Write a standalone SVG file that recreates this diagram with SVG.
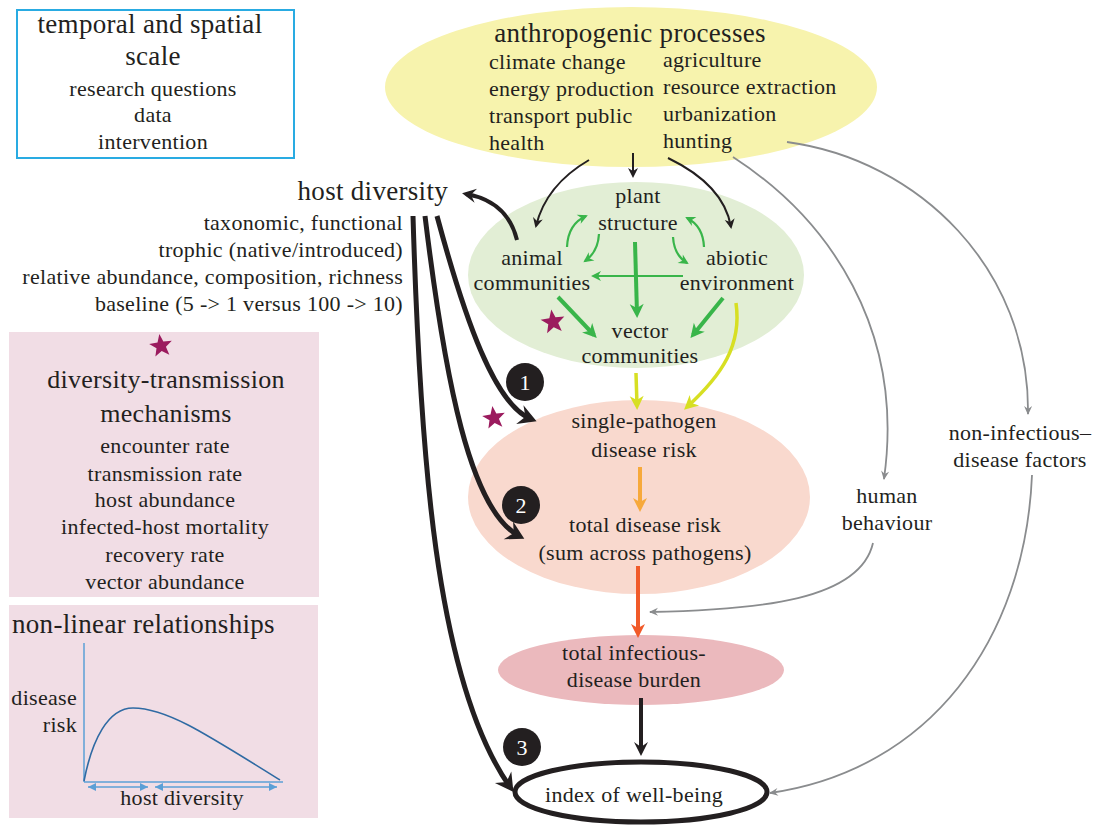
<svg xmlns="http://www.w3.org/2000/svg" width="1094" height="825" viewBox="0 0 1094 825" font-family="'Liberation Serif', 'DejaVu Serif', serif">
<style>
text{font-family:'Liberation Serif','DejaVu Serif',serif;fill:#231f20;}
.b{font-size:22px;letter-spacing:0.3px;}
.h{font-size:27px;letter-spacing:0.3px;}
.m{text-anchor:middle;}
.e{text-anchor:end;}
.num{font-size:22px;fill:#ffffff;text-anchor:middle;}
.thick{fill:none;stroke:#231f20;stroke-width:5;}
.blk{fill:none;stroke:#231f20;stroke-width:2;}
.gth{fill:none;stroke:#39b54a;stroke-width:2.2;}
.gtk{fill:none;stroke:#39b54a;stroke-width:4;}
.yel{fill:none;stroke:#d7df23;stroke-width:3.5;}
.gry{fill:none;stroke:#8a8c8e;stroke-width:1.8;}
.axis{fill:none;stroke:#5b9fd6;stroke-width:1.5;}
.star{fill:#9b1b5e;}
</style>
<defs>
<path id="star" d="M0,-12 L2.94,-4.05 L11.41,-3.71 L4.76,1.55 L7.05,9.71 L0,5 L-7.05,9.71 L-4.76,1.55 L-11.41,-3.71 L-2.94,-4.05 Z"/>
<marker id="aBig" markerUnits="userSpaceOnUse" viewBox="-20 -12 24 24" markerWidth="24" markerHeight="24" refX="-6" refY="0" orient="auto"><path d="M0,0 L-18,-10 L-12,0 L-18,10 Z" fill="#231f20"/></marker>
<marker id="aMed" markerUnits="userSpaceOnUse" viewBox="-16 -9 18 18" markerWidth="18" markerHeight="18" refX="-4" refY="0" orient="auto"><path d="M0,0 L-14,-7 L-9,0 L-14,7 Z" fill="#231f20"/></marker>
<marker id="aSm" markerUnits="userSpaceOnUse" viewBox="-12 -6 14 12" markerWidth="14" markerHeight="12" refX="-2" refY="0" orient="auto"><path d="M0,0 L-10,-5 L-7,0 L-10,5 Z" fill="#231f20"/></marker>
<marker id="gSm" markerUnits="userSpaceOnUse" viewBox="-12 -6 14 12" markerWidth="14" markerHeight="12" refX="-2" refY="0" orient="auto"><path d="M0,0 L-10,-5 L-7,0 L-10,5 Z" fill="#39b54a"/></marker>
<marker id="gBig" markerUnits="userSpaceOnUse" viewBox="-16 -9 18 18" markerWidth="18" markerHeight="18" refX="-4" refY="0" orient="auto"><path d="M0,0 L-14,-7 L-10,0 L-14,7 Z" fill="#39b54a"/></marker>
<marker id="yBig" markerUnits="userSpaceOnUse" viewBox="-16 -9 18 18" markerWidth="18" markerHeight="18" refX="-4" refY="0" orient="auto"><path d="M0,0 L-14,-7 L-10,0 L-14,7 Z" fill="#d7df23"/></marker>
<marker id="oBig" markerUnits="userSpaceOnUse" viewBox="-16 -9 18 18" markerWidth="18" markerHeight="18" refX="-4" refY="0" orient="auto"><path d="M0,0 L-14,-7 L-10,0 L-14,7 Z" fill="#f7a93b"/></marker>
<marker id="rBig" markerUnits="userSpaceOnUse" viewBox="-16 -9 18 18" markerWidth="18" markerHeight="18" refX="-4" refY="0" orient="auto"><path d="M0,0 L-14,-7 L-10,0 L-14,7 Z" fill="#f15a29"/></marker>
<marker id="gray" markerUnits="userSpaceOnUse" viewBox="-11 -5 12 10" markerWidth="12" markerHeight="10" refX="-1" refY="0" orient="auto"><path d="M0,0 L-9,-4 L-6,0 L-9,4 Z" fill="#8a8c8e"/></marker>
<marker id="blue" markerUnits="userSpaceOnUse" viewBox="-9 -5 10 10" markerWidth="10" markerHeight="10" refX="0" refY="0" orient="auto-start-reverse"><path d="M0,0 L-8,-4 L-8,4 Z" fill="#5b9fd6"/></marker>
</defs>

<g id="scale-box">
<rect x="17" y="10" width="277" height="148" fill="#ffffff" stroke="#29abe2" stroke-width="2"/>
<text class="h m" x="150" y="33">temporal and spatial</text>
<text class="h m" x="153" y="65">scale</text>
<text class="b m" x="153" y="96">research questions</text>
<text class="b m" x="153" y="122">data</text>
<text class="b m" x="153" y="149">intervention</text>
</g>

<g id="mechanisms-box">
<rect x="9" y="332" width="310" height="265" fill="#f1dde5"/>
<use href="#star" class="star" transform="translate(161,346) rotate(-8)"/>
<text class="m" style="font-size:26px;letter-spacing:0.3px" x="166" y="388">diversity-transmission</text>
<text class="m" style="font-size:26px;letter-spacing:0.3px" x="166" y="422">mechanisms</text>
<text class="b m" x="165" y="453">encounter rate</text>
<text class="b m" x="165" y="481">transmission rate</text>
<text class="b m" x="165" y="507">host abundance</text>
<text class="b m" x="165" y="534">infected-host mortality</text>
<text class="b m" x="165" y="562">recovery rate</text>
<text class="b m" x="165" y="589">vector abundance</text>
</g>

<g id="nonlinear-box">
<rect x="9" y="605" width="309" height="213" fill="#f1dde5"/>
<text class="h" x="12" y="633">non-linear relationships</text>
<line class="axis" x1="84" y1="643" x2="84" y2="782"/>
<line class="axis" x1="84" y1="782" x2="283" y2="782"/>
<path d="M84,781 C92,740 108,708 133,708 C165,708 200,730 280,780" fill="none" stroke="#2f6aa3" stroke-width="1.6"/>
<line class="axis" x1="88" y1="787" x2="148" y2="787" marker-start="url(#blue)" marker-end="url(#blue)"/>
<line class="axis" x1="155" y1="787" x2="277" y2="787" marker-start="url(#blue)" marker-end="url(#blue)"/>
<text class="b e" x="77" y="705">disease</text>
<text class="b e" x="77" y="732">risk</text>
<text class="b m" x="182" y="805">host diversity</text>
</g>

<g id="anthropogenic">
<ellipse cx="631" cy="87" rx="246" ry="80" fill="#f7f3ad"/>
<text class="h m" x="630" y="42">anthropogenic processes</text>
<text class="b" x="489" y="69">climate change</text>
<text class="b" x="489" y="96">energy production</text>
<text class="b" x="489" y="123">transport public</text>
<text class="b" x="489" y="150">health</text>
<text class="b" x="663" y="67">agriculture</text>
<text class="b" x="663" y="94">resource extraction</text>
<text class="b" x="663" y="121">urbanization</text>
<text class="b" x="663" y="148">hunting</text>
</g>

<g id="host-diversity">
<text class="h e" x="448" y="200">host diversity</text>
<text class="b e" x="403" y="230">taxonomic, functional</text>
<text class="b e" x="403" y="257">trophic (native/introduced)</text>
<text class="b e" x="403" y="284">relative abundance, composition, richness</text>
<text class="b e" x="403" y="311">baseline (5 -&gt; 1 versus 100 -&gt; 10)</text>
</g>

<g id="community">
<ellipse cx="636" cy="275" rx="168" ry="93" fill="#e2eed5"/>
</g>

<g id="disease-risk">
<ellipse cx="639" cy="497" rx="171" ry="97" fill="#f9d9ce"/>
</g>

<g id="burden">
<ellipse cx="641" cy="670" rx="143" ry="35" fill="#ebb9bd"/>
<text class="b m" x="634" y="660">total infectious-</text>
<text class="b m" x="634" y="687">disease burden</text>
</g>

<g id="well-being">
<ellipse cx="641" cy="792" rx="126" ry="30" fill="#ffffff" stroke="#231f20" stroke-width="5"/>
<text class="b m" x="634" y="802">index of well-being</text>
</g>

<g id="connectors">
<path class="blk" d="M589,160 Q546,185 536,226" marker-end="url(#aSm)"/>
<path class="blk" d="M633,153 L633,176" marker-end="url(#aSm)"/>
<path class="blk" d="M668,158 Q724,185 731,227" marker-end="url(#aSm)"/>
<path class="gry" d="M733,157 C830,220 905,330 884,479" marker-end="url(#gray)"/>
<path class="gry" d="M787,142 C920,160 1030,270 1028,414" marker-end="url(#gray)"/>
<path class="gry" d="M873,543 C860,600 760,610 650,612" marker-end="url(#gray)"/>
<path class="gry" d="M1032,475 C1025,640 930,770 770,793" marker-end="url(#gray)"/>
<path fill="none" stroke="#231f20" stroke-width="4" d="M517,240 C512,220 500,200 466,194" marker-end="url(#aMed)"/>
<path class="gth" d="M567,247 Q568,224 586,216" marker-end="url(#gSm)"/>
<path class="gth" d="M599,234 Q598,252 585,261" marker-end="url(#gSm)"/>
<path class="gth" d="M673,237 Q674,255 687,263" marker-end="url(#gSm)"/>
<path class="gth" d="M704,247 Q703,226 687,218" marker-end="url(#gSm)"/>
<path class="gth" d="M683,276 L593,276" marker-end="url(#gSm)"/>
<path class="gtk" d="M635,242 L637,314" marker-end="url(#gBig)"/>
<path class="gtk" d="M558,297 L594,335" marker-end="url(#gBig)"/>
<path class="gtk" d="M723,298 L693,335" marker-end="url(#gBig)"/>
<path class="yel" d="M636,373 L637,406" marker-end="url(#yBig)"/>
<path class="yel" d="M736,303 C742,345 722,375 687,407" marker-end="url(#yBig)"/>
<path fill="none" stroke="#f7a93b" stroke-width="4" d="M640,467 L640,508" marker-end="url(#oBig)"/>
<path fill="none" stroke="#f15a29" stroke-width="4" d="M638,566 L638,634" marker-end="url(#rBig)"/>
<path fill="none" stroke="#231f20" stroke-width="4" d="M641,698 L641,752" marker-end="url(#aMed)"/>
<path class="thick" d="M437,216 C465,320 495,405 531,419" marker-end="url(#aBig)"/>
<path class="thick" d="M425,216 C445,380 470,510 519,536" marker-end="url(#aBig)"/>
<path class="thick" d="M413,216 C420,450 435,680 510,787" marker-end="url(#aBig)"/>
</g>

<g id="community-labels">
<text class="b m" x="638" y="203">plant</text>
<text class="b m" x="638" y="230">structure</text>
<text class="b m" x="532" y="265">animal</text>
<text class="b m" x="532" y="290">communities</text>
<text class="b m" x="737" y="265">abiotic</text>
<text class="b m" x="737" y="290">environment</text>
<text class="b m" x="640" y="338">vector</text>
<text class="b m" x="640" y="363">communities</text>
</g>

<g id="risk-labels">
<text class="b m" x="644" y="428">single-pathogen</text>
<text class="b m" x="644" y="457">disease risk</text>
<text class="b m" x="645" y="532">total disease risk</text>
<text class="b m" x="645" y="560">(sum across pathogens)</text>
</g>

<g id="human-behaviour">
<text class="b m" x="887" y="503">human</text>
<text class="b m" x="887" y="530">behaviour</text>
</g>

<g id="non-infectious">
<text class="b m" x="1020" y="440">non-infectious–</text>
<text class="b m" x="1020" y="467">disease factors</text>
</g>

<g id="markers-stars">
<use href="#star" class="star" transform="translate(553,322) rotate(-8) scale(1.05)"/>
<use href="#star" class="star" transform="translate(494,418) rotate(-8)"/>
</g>

<g id="badges">
<circle cx="525" cy="382" r="19" fill="#231f20"/>
<text class="num" x="525" y="390">1</text>
<circle cx="521" cy="505" r="19" fill="#231f20"/>
<text class="num" x="521" y="513">2</text>
<circle cx="522" cy="747" r="19" fill="#231f20"/>
<text class="num" x="522" y="755">3</text>
</g>
</svg>
